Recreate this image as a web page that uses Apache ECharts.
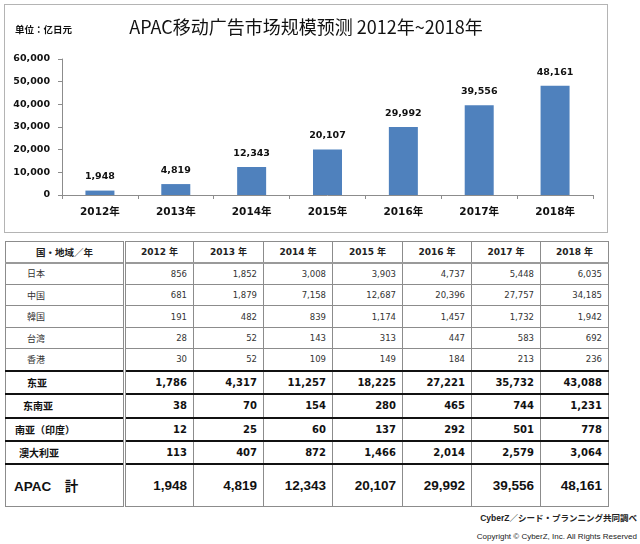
<!DOCTYPE html>
<html>
<head>
<meta charset="utf-8">
<script src="https://cdn.jsdelivr.net/npm/echarts@6/dist/echarts.min.js"></script>
<style>
  html, body { margin:0; padding:0; width:640px; height:544px; background:#fff; overflow:hidden; }
  #chart { position:absolute; left:4px; top:4px; width:602px; height:227px; border:1px solid #b4b4b4; }
  #tbl { position:absolute; left:5px; top:241px; border-collapse:collapse; table-layout:fixed; width:603px;
         font-family:"DejaVu Sans","Noto Sans CJK JP",sans-serif; color:#222; }
  #tbl td { border:1px solid #8c8c8c; padding:0 6px 0 0; text-align:right; box-sizing:border-box; white-space:nowrap; overflow:hidden; }
  #tbl td.name { text-align:left; padding:0; border-right:3px double #8c8c8c; }
  #tbl tr.hdr td { text-align:center; font-weight:bold; font-size:9px; border-bottom:2px solid #9a9a9a; padding:0; }
  #tbl tr.hdr td.name { font-size:9.5px; }
  #tbl tr.det td { font-size:8.5px; color:#333; }
  #tbl tr.det td.name { padding-left:21px; font-family:"Noto Sans CJK JP",sans-serif; font-size:9px; }
  #tbl tr.sub td { font-size:10px; font-weight:bold; border-top:2px solid #111; color:#111; }
  #tbl tr.sub td.name { font-family:"Noto Sans CJK JP",sans-serif; font-size:10px; }
  #tbl tr.tot td { font-family:"Liberation Sans","Noto Sans CJK JP",sans-serif; font-size:13.5px; font-weight:bold; border-top:2px solid #111; color:#111; }
  .foot { position:absolute; right:3px; font-family:"Liberation Sans","Noto Sans CJK JP",sans-serif; color:#222; white-space:nowrap; }
</style>
</head>
<body>
<div id="chart"></div>
<table id="tbl"></table>
<div class="foot" style="top:511px;font-size:8.5px;font-weight:bold;">CyberZ／シード・プランニング共同調べ</div>
<div class="foot" style="top:532px;font-size:8px;">Copyright © CyberZ, Inc. All Rights Reserved</div>
<script>
// ---- chart data ----
const chartTitle = 'APAC移动广告市场规模预测 2012年~2018年';
const unitLabel = '单位：亿日元';
const years = ['2012年','2013年','2014年','2015年','2016年','2017年','2018年'];
const apacTotal = [1948, 4819, 12343, 20107, 29992, 39556, 48161];

// ---- table data ----
const tableHeader = '国・地域／年';
const tableYears = ['2012 年','2013 年','2014 年','2015 年','2016 年','2017 年','2018 年'];
const japan     = [856, 1852, 3008, 3903, 4737, 5448, 6035];
const china     = [681, 1879, 7158, 12687, 20396, 27757, 34185];
const korea     = [191, 482, 839, 1174, 1457, 1732, 1942];
const taiwan    = [28, 52, 143, 313, 447, 583, 692];
const hongkong  = [30, 52, 109, 149, 184, 213, 236];
const eastAsia  = [1786, 4317, 11257, 18225, 27221, 35732, 43088];
const seAsia    = [38, 70, 154, 280, 465, 744, 1231];
const southAsia = [12, 25, 60, 137, 292, 501, 778];
const australia = [113, 407, 872, 1466, 2014, 2579, 3064];

const fmt = v => Number(v).toLocaleString('en-US');

// ---- build table ----
const colWidths = [119, 69, 70, 69, 70, 69, 69, 68];
const rows = [
  {cls:'det', name:'日本', vals:japan, h:22},
  {cls:'det', name:'中国', vals:china, h:21},
  {cls:'det', name:'韓国', vals:korea, h:22},
  {cls:'det', name:'台湾', vals:taiwan, h:21},
  {cls:'det', name:'香港', vals:hongkong, h:22},
  {cls:'sub', name:'东亚', vals:eastAsia, h:23, pad:21},
  {cls:'sub', name:'东南亚', vals:seAsia, h:24, pad:17},
  {cls:'sub', name:'南亚（印度）', vals:southAsia, h:23, pad:9},
  {cls:'sub', name:'澳大利亚', vals:australia, h:23, pad:13},
  {cls:'tot', name:'APAC　計', vals:apacTotal, h:43, pad:8}
];
const tbl = document.getElementById('tbl');
let html = '<colgroup>' + colWidths.map(w => '<col style="width:' + w + 'px">').join('') + '</colgroup>';
html += '<tr class="hdr" style="height:21px"><td class="name">' + tableHeader + '</td>' +
        tableYears.map(y => '<td>' + y + '</td>').join('') + '</tr>';
rows.forEach(r => {
  const padStyle = r.pad !== undefined ? ' style="padding-left:' + r.pad + 'px"' : '';
  html += '<tr class="' + r.cls + '" style="height:' + r.h + 'px"><td class="name"' + padStyle + '>' + r.name + '</td>' +
          r.vals.map(v => '<td>' + fmt(v) + '</td>').join('') + '</tr>';
});
tbl.innerHTML = html;

// ---- chart ----
const chart = echarts.init(document.getElementById('chart'));
const numFont = '"DejaVu Sans","Noto Sans CJK JP",sans-serif';
chart.setOption({
  animation: false,
  backgroundColor: '#fff',
  title: {
    text: chartTitle,
    left: 'center',
    top: 13,
    padding: 0,
    textStyle: { fontFamily: '"Noto Sans CJK JP",sans-serif', fontSize: 18, fontWeight: 'normal', color: '#111' }
  },
  graphic: [{
    type: 'text', left: 10, top: 20,
    style: { text: unitLabel, fontFamily: '"Noto Sans CJK JP",sans-serif', fontSize: 9.5, fontWeight: 'bold', fill: '#111' }
  }],
  grid: { left: 57, right: 14, top: 54, height: 136 },
  xAxis: {
    type: 'category',
    data: years,
    axisLine: { lineStyle: { color: '#8c8c8c', width: 1 } },
    axisTick: { show: true, length: 4, lineStyle: { color: '#8c8c8c' } },
    axisLabel: { margin: 12, color: '#111', fontFamily: numFont, fontWeight: 'bold', fontSize: 10.5 }
  },
  yAxis: {
    type: 'value',
    min: 0, max: 60000, interval: 10000,
    axisLine: { show: true, lineStyle: { color: '#8c8c8c', width: 1 } },
    axisTick: { show: true, length: 4, lineStyle: { color: '#8c8c8c' } },
    splitLine: { show: false },
    axisLabel: { margin: 12, color: '#111', fontFamily: numFont, fontWeight: 'bold', fontSize: 9.5, formatter: v => fmt(v) }
  },
  series: [{
    type: 'bar',
    data: apacTotal,
    barWidth: 29,
    itemStyle: { color: '#4F81BD' },
    label: {
      show: true, position: 'top', distance: 9,
      color: '#111', fontFamily: numFont, fontWeight: 'bold', fontSize: 9.5,
      formatter: p => fmt(p.value)
    }
  }]
});
</script>
</body>
</html>
